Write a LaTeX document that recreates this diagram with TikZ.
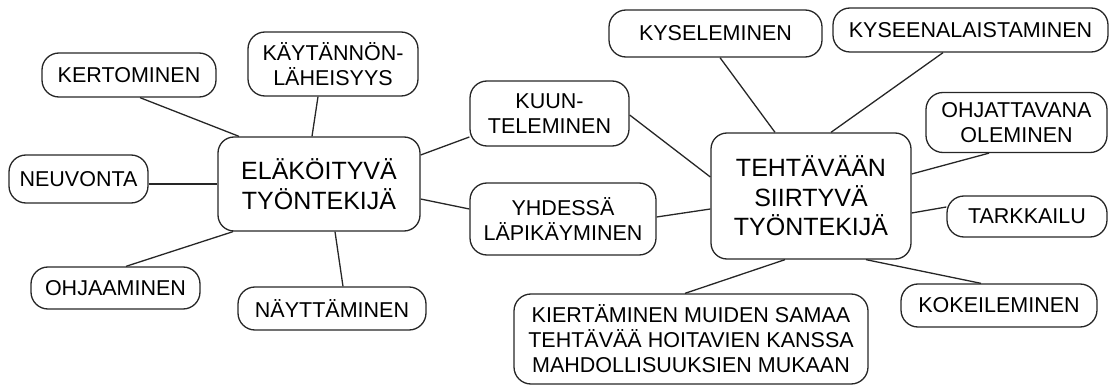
\documentclass[tikz,border=0pt]{standalone}
\usepackage{fontspec}
\setmainfont{Liberation Sans}
\begin{document}
\begin{tikzpicture}[x=1pt,y=-1pt,
  lbl/.style={draw=black!85, line width=1.3pt, rounded corners=17pt, align=center, inner sep=0pt,
    font=\fontsize{21.5}{25}\selectfont},
  hub/.style={draw=black!85, line width=1.3pt, rounded corners=16pt, align=center, inner sep=0pt,
    font=\fontsize{25}{29.5}\selectfont},
  link/.style={draw=black!85, line width=1.3pt}]
\useasboundingbox (0,0) rectangle (1112,385);
% left hub and labels
\node[hub, minimum width=202pt, minimum height=94pt] (elak) at (319,184) {ELÄKÖITYVÄ\\TYÖNTEKIJÄ};
\node[lbl, minimum width=174pt, minimum height=44pt] (kert) at (129,75) {KERTOMINEN};
\node[lbl, minimum width=170pt, minimum height=64pt] (kayt) at (333,64) {KÄYTÄNNÖN-\\LÄHEISYYS};
\node[lbl, minimum width=139pt, minimum height=48pt] (neuv) at (78.5,179) {NEUVONTA};
\node[lbl, minimum width=169pt, minimum height=42pt] (ohja) at (115.5,288) {OHJAAMINEN};
\node[lbl, minimum width=188pt, minimum height=43pt] (nayt) at (332,308.5) {NÄYTTÄMINEN};
% middle labels
\node[lbl, minimum width=159pt, minimum height=65pt] (kuun) at (549.5,113.5) {KUUN-\\TELEMINEN};
\node[lbl, minimum width=186pt, minimum height=72pt] (yhde) at (563,219) {YHDESSÄ\\LÄPIKÄYMINEN};
% right hub and labels
\node[hub, minimum width=200pt, minimum height=126pt] (teht) at (811,196) {TEHTÄVÄÄN\\SIIRTYVÄ\\TYÖNTEKIJÄ};
\node[lbl, minimum width=213pt, minimum height=47pt] (kysel) at (715.5,33.5) {KYSELEMINEN};
\node[lbl, minimum width=275pt, minimum height=44pt] (kysee) at (970.5,30) {KYSEENALAISTAMINEN};
\node[lbl, minimum width=181pt, minimum height=60pt] (ohjt) at (1016.5,122.5) {OHJATTAVANA\\OLEMINEN};
\node[lbl, minimum width=160pt, minimum height=41pt] (tark) at (1027,216.5) {TARKKAILU};
\node[lbl, minimum width=196pt, minimum height=43pt] (koke) at (999,305.5) {KOKEILEMINEN};
\node[lbl, minimum width=354pt, minimum height=90pt] (kier) at (691,339) {KIERTÄMINEN MUIDEN SAMAA\\TEHTÄVÄÄ HOITAVIEN KANSSA\\MAHDOLLISUUKSIEN MUKAAN};
% connectors
\draw[link] ([xshift=11pt]kert.south) -- ([xshift=-80pt]elak.north);
\draw[link] ([xshift=-15pt]kayt.south) -- ([xshift=-7pt]elak.north);
\draw[link] (neuv.east |- elak.west) -- (elak.west);
\draw[link] ([xshift=10.5pt]ohja.north) -- ([xshift=-86pt]elak.south);
\draw[link] ([xshift=11pt]nayt.north) -- ([xshift=16pt]elak.south);
\draw[link] ([yshift=29pt]elak.east) -- ([yshift=-23.5pt]kuun.west);
\draw[link] ([yshift=-15pt]elak.east) -- ([yshift=10pt]yhde.west);
\draw[link] ([yshift=-1.5pt]kuun.east) -- ([yshift=19pt]teht.west);
\draw[link] ([yshift=2pt]yhde.east) -- ([yshift=-13pt]teht.west);
\draw[link] ([xshift=4.5pt]kysel.south) -- ([xshift=-36pt]teht.north);
\draw[link] ([xshift=-27.5pt]kysee.south) -- ([xshift=20pt]teht.north);
\draw[link] ([xshift=-27.5pt]ohjt.south) -- ([yshift=22pt]teht.east);
\draw[link] ([yshift=9.5pt]tark.west) -- ([yshift=-17pt]teht.east);
\draw[link] ([xshift=-18pt]koke.north) -- ([xshift=55pt]teht.south);
\draw[link] ([xshift=-6pt]kier.north) -- ([xshift=-26pt]teht.south);
\end{tikzpicture}
\end{document}
